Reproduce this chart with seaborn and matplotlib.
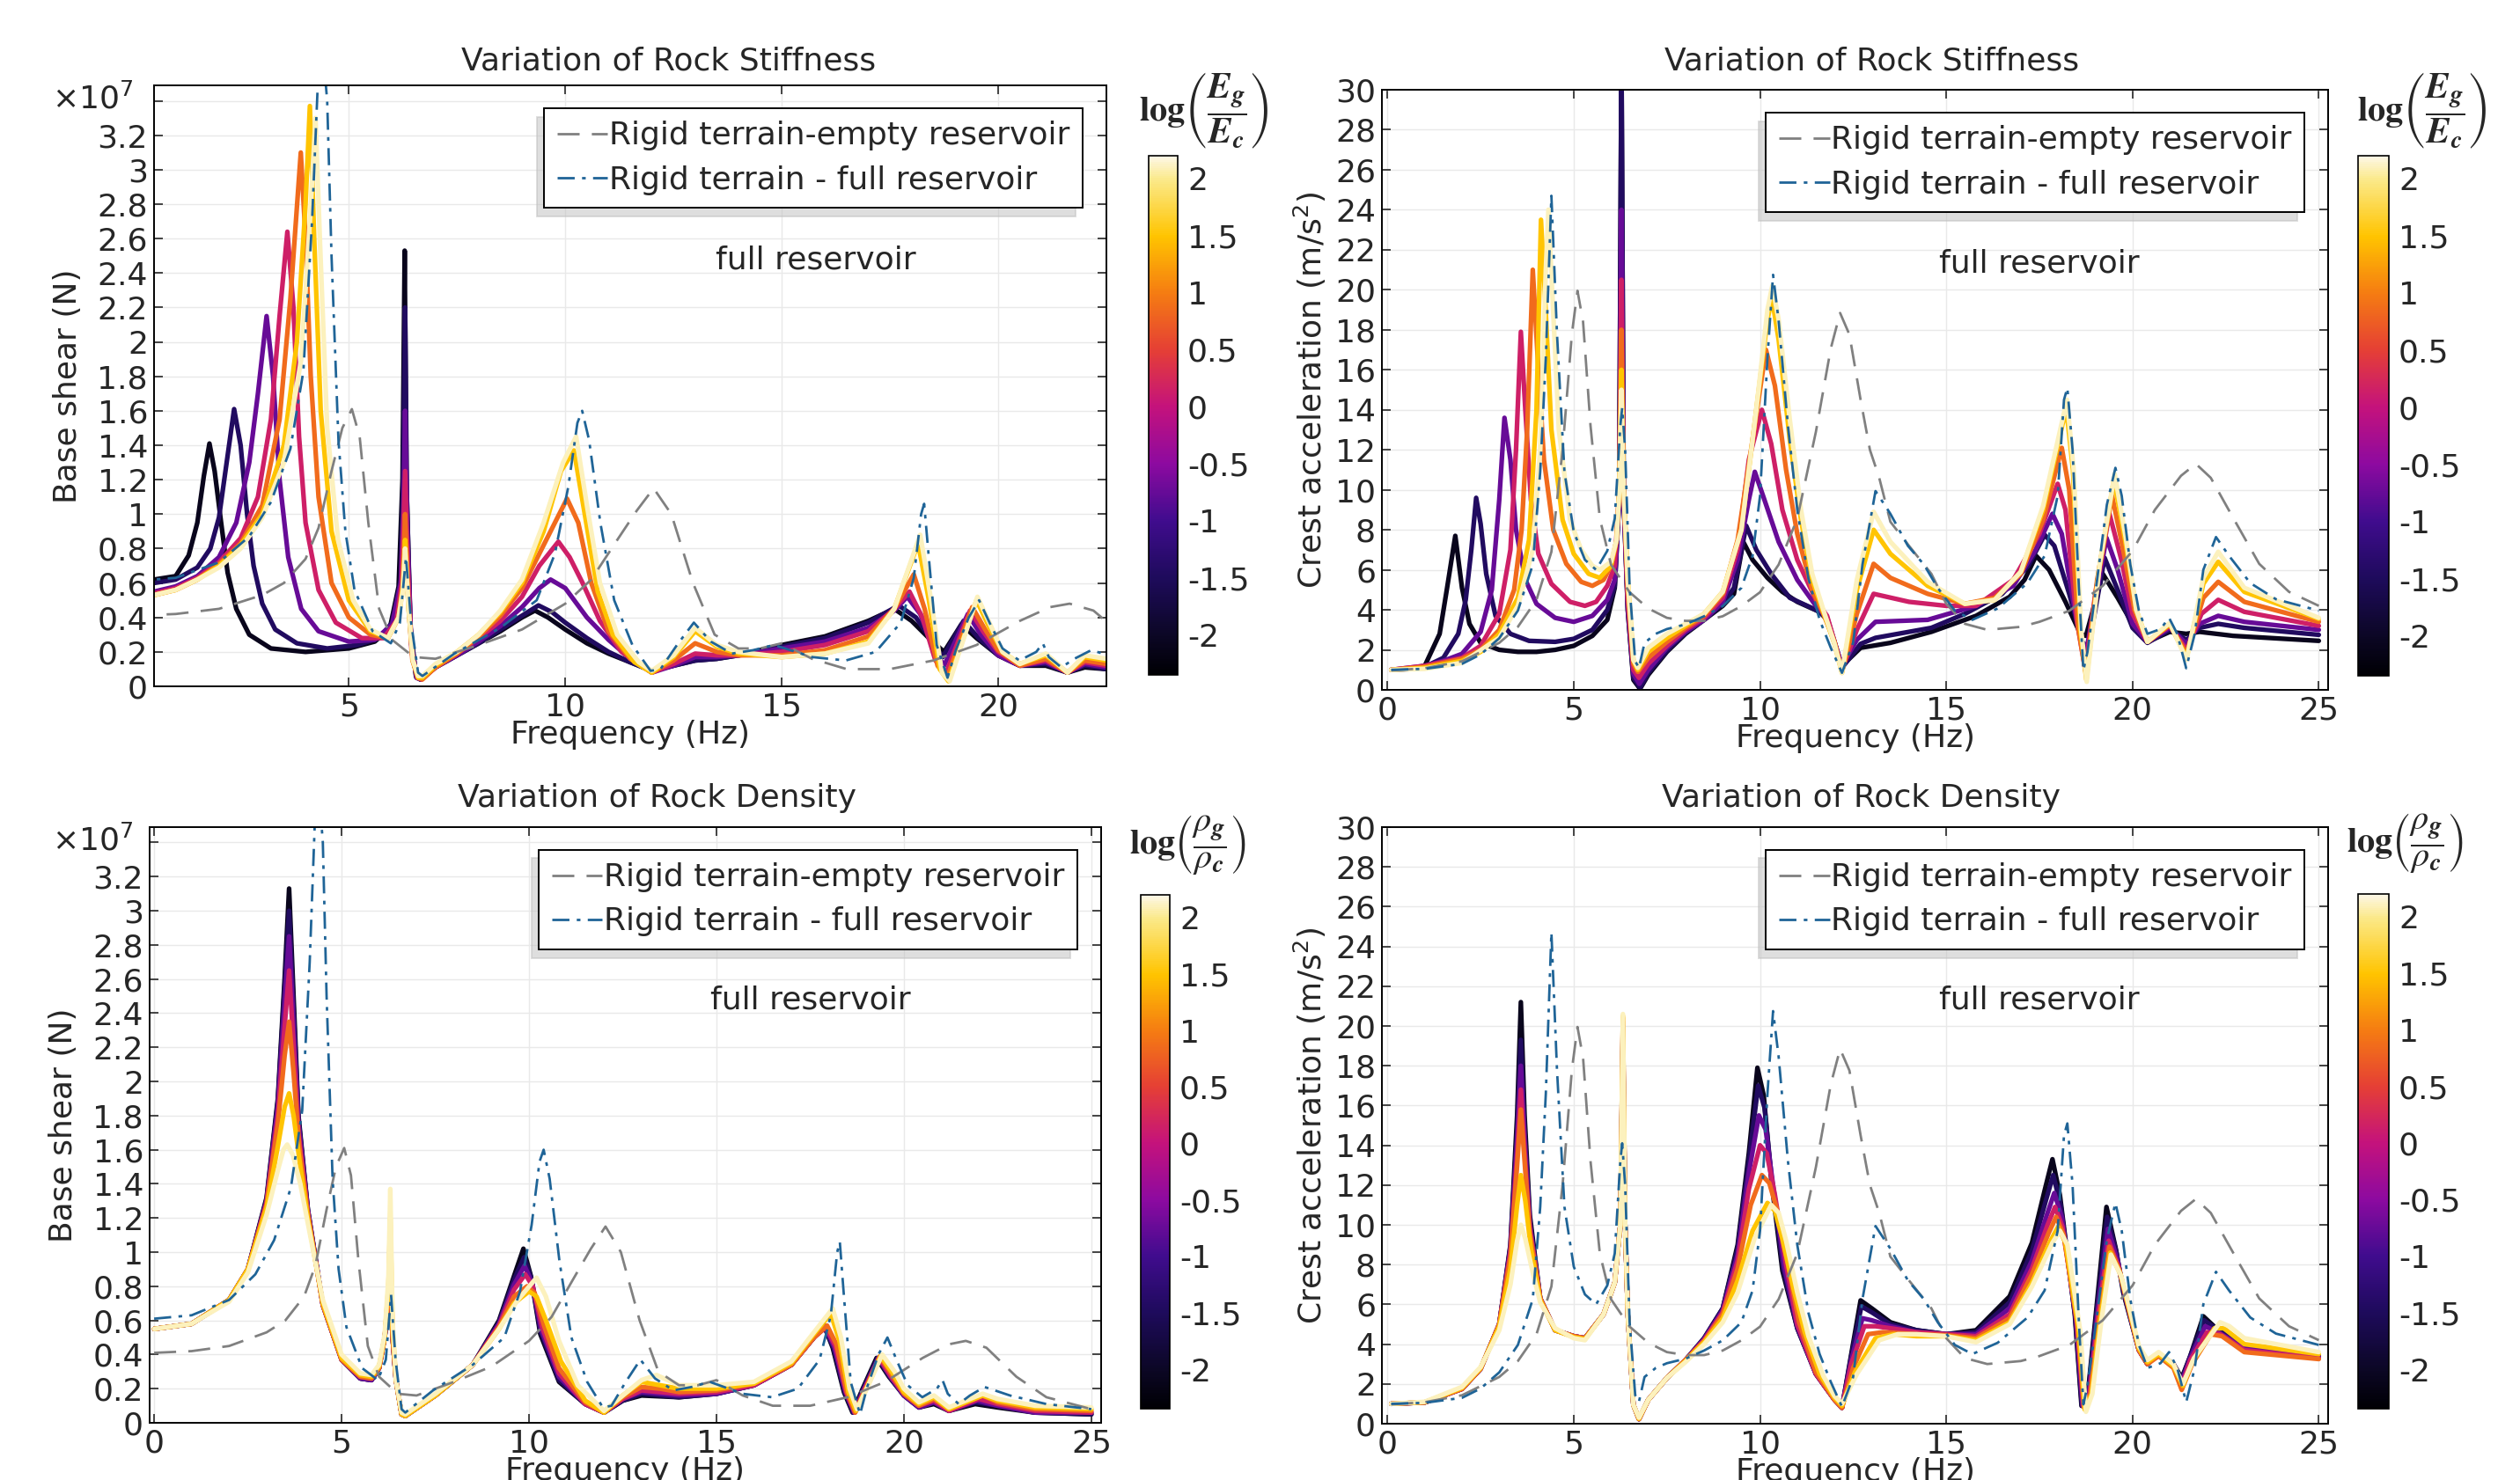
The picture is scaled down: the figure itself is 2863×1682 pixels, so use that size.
import pandas as pd
import matplotlib
matplotlib.use("Agg")
import matplotlib.pyplot as plt
import seaborn as sns
from matplotlib.colors import LinearSegmentedColormap, Normalize
from matplotlib.cm import ScalarMappable

# ── DATA ─────────────────────────────────────────────────────────────────────
# log ratio of each coloured curve (dark -> light)
log_ratio = [-2.1, -1.45, -0.75, 0.15, 0.85, 1.5, 2.1]
cbar_ticks = [-2, -1.5, -1, -0.5, 0, 0.5, 1, 1.5, 2]
cbar_range = (-2.35, 2.2)

# reference curves (frequency Hz, value); base shear in 1e7 N, acceleration in m/s2
empty_shear = [(0.0, 0.41), (1.0, 0.42), (2.0, 0.45), (3.0, 0.53), (3.5, 0.6), (4.0, 0.74), (4.3, 0.92),
               (4.6, 1.25), (4.85, 1.5), (5.07, 1.61), (5.25, 1.45), (5.45, 0.95), (5.7, 0.45), (6.0, 0.27),
               (6.5, 0.17), (7.0, 0.16), (7.5, 0.2), (8.0, 0.24), (9.0, 0.33), (10.0, 0.48), (10.6, 0.62),
               (11.2, 0.85), (11.65, 1.02), (12.04, 1.15), (12.45, 1.0), (12.95, 0.6), (13.45, 0.3),
               (14.0, 0.22), (14.5, 0.22), (15.0, 0.25), (15.7, 0.16), (16.5, 0.1), (17.5, 0.1), (18.5, 0.15),
               (19.5, 0.24), (20.5, 0.38), (21.2, 0.46), (21.65, 0.48), (22.2, 0.44), (23.0, 0.27),
               (23.8, 0.15), (25.0, 0.08)]
full_shear = [(0.0, 0.61), (1.0, 0.63), (2.0, 0.72), (2.7, 0.87), (3.2, 1.07), (3.65, 1.38), (3.95, 1.83),
              (4.15, 2.7), (4.3, 3.6), (4.38, 3.75), (4.5, 3.4), (4.6, 2.5), (4.76, 1.43), (4.92, 0.9),
              (5.13, 0.56), (5.55, 0.32), (5.97, 0.25), (6.18, 0.37), (6.32, 0.75), (6.44, 0.37), (6.6, 0.08),
              (6.7, 0.06), (7.44, 0.19), (8.5, 0.34), (9.34, 0.5), (9.76, 0.77), (10.07, 1.16), (10.28, 1.53),
              (10.39, 1.6), (10.55, 1.43), (10.81, 0.95), (11.13, 0.5), (11.55, 0.24), (11.97, 0.09),
              (12.2, 0.1), (12.58, 0.24), (12.97, 0.37), (13.36, 0.26), (13.85, 0.19), (14.34, 0.21),
              (14.82, 0.24), (15.2, 0.21), (15.7, 0.17), (16.48, 0.15), (17.17, 0.2), (17.75, 0.37),
              (18.05, 0.63), (18.22, 1.0), (18.29, 1.06), (18.39, 0.77), (18.58, 0.24), (18.83, 0.05),
              (19.02, 0.21), (19.32, 0.4), (19.56, 0.5), (19.8, 0.37), (20.1, 0.22), (20.49, 0.15),
              (20.88, 0.2), (21.03, 0.25), (21.17, 0.17), (21.46, 0.11), (21.76, 0.16), (22.15, 0.21),
              (22.83, 0.16), (23.8, 0.11), (25.0, 0.08)]
empty_acc = [(0.1, 0.97), (1.0, 1.08), (2.0, 1.43), (3.0, 2.35), (3.5, 3.15), (4.0, 4.5), (4.4, 6.9),
             (4.7, 12.0), (4.95, 17.8), (5.1, 19.95), (5.25, 18.4), (5.45, 13.2), (5.7, 8.56), (6.0, 6.26),
             (6.5, 4.88), (7.0, 4.07), (7.5, 3.6), (8.0, 3.45), (8.5, 3.45), (9.0, 3.68), (9.5, 4.19),
             (10.0, 4.88), (10.5, 6.26), (11.0, 8.56), (11.5, 12.9), (11.9, 17.07), (12.15, 18.84),
             (12.4, 17.76), (12.7, 14.5), (12.95, 12.0), (13.2, 10.6), (13.5, 8.4), (14.0, 7.2), (14.6, 5.8),
             (15.0, 4.3), (15.5, 3.3), (16.1, 3.0), (17.0, 3.15), (17.5, 3.4), (18.3, 3.95), (19.2, 5.2),
             (20.0, 6.95), (20.6, 9.0), (21.3, 10.7), (21.7, 11.3), (22.1, 10.6), (22.7, 8.6), (23.4, 6.3),
             (24.2, 4.9), (25.0, 4.2)]
full_acc = [(0.1, 1.0), (1.0, 1.05), (2.0, 1.3), (2.5, 1.77), (3.0, 2.58), (3.5, 3.96), (3.9, 6.26),
            (4.1, 10.9), (4.25, 16.6), (4.4, 24.7), (4.55, 17.8), (4.75, 10.9), (5.0, 7.9), (5.3, 6.5),
            (5.6, 6.0), (5.9, 6.95), (6.1, 8.56), (6.25, 13.2), (6.3, 14.1), (6.38, 12.0), (6.5, 5.1),
            (6.65, 1.43), (6.75, 1.1), (6.9, 2.35), (7.2, 2.8), (7.5, 3.04), (8.0, 3.27), (8.5, 3.68),
            (9.0, 4.19), (9.5, 5.1), (9.8, 6.7), (10.0, 9.7), (10.2, 16.6), (10.35, 20.75), (10.5, 18.45),
            (10.75, 13.2), (11.0, 9.0), (11.3, 5.57), (11.6, 3.5), (11.9, 2.1), (12.2, 0.85), (12.5, 2.35),
            (12.75, 6.26), (13.1, 9.94), (13.5, 8.8), (13.97, 7.2), (14.4, 6.26), (14.77, 5.1),
            (15.23, 3.96), (15.7, 3.5), (16.38, 4.07), (17.18, 5.34), (17.64, 6.7), (17.99, 9.7),
            (18.16, 14.5), (18.25, 15.1), (18.39, 12.0), (18.56, 5.1), (18.68, 0.97), (18.79, 1.9),
            (19.02, 5.1), (19.31, 9.25), (19.54, 11.1), (19.71, 9.7), (19.94, 6.26), (20.17, 3.96),
            (20.4, 2.8), (20.75, 3.04), (20.98, 3.6), (21.2, 2.8), (21.44, 1.08), (21.67, 2.8), (21.9, 6.0),
            (22.24, 7.64), (22.59, 6.7), (23.16, 5.34), (23.85, 4.53), (25.0, 3.96)]

# rock stiffness variation, base shear (1e7 N), one curve per log ratio
stiff_shear = [
    [(0.5, 0.62), (1.0, 0.64), (1.3, 0.76), (1.5, 0.95), (1.65, 1.22), (1.78, 1.41), (1.9, 1.25), (2.05, 0.95),
     (2.2, 0.66), (2.4, 0.45), (2.7, 0.3), (3.2, 0.22), (4.0, 0.2), (5.0, 0.22), (5.6, 0.26), (5.95, 0.34),
     (6.15, 0.58), (6.24, 1.2), (6.29, 2.53), (6.33, 1.2), (6.42, 0.35), (6.55, 0.06), (6.65, 0.04),
     (7.0, 0.11), (7.5, 0.18), (8.0, 0.25), (8.5, 0.32), (9.0, 0.4), (9.3, 0.44), (9.6, 0.4), (10.0, 0.33),
     (10.5, 0.25), (11.0, 0.19), (11.5, 0.14), (12.0, 0.09), (12.5, 0.12), (13.0, 0.15), (13.5, 0.16),
     (14.0, 0.18), (15.0, 0.24), (16.0, 0.29), (17.0, 0.38), (17.6, 0.45), (18.0, 0.38), (18.4, 0.28),
     (18.75, 0.2), (19.15, 0.36), (19.5, 0.28), (20.0, 0.18), (20.5, 0.12), (21.1, 0.12), (21.6, 0.08),
     (22.0, 0.11), (22.5, 0.1)],
    [(0.5, 0.6), (1.0, 0.62), (1.5, 0.69), (1.8, 0.8), (2.0, 0.98), (2.15, 1.25), (2.35, 1.61), (2.5, 1.4),
     (2.65, 1.0), (2.8, 0.7), (3.0, 0.48), (3.3, 0.33), (3.8, 0.25), (4.5, 0.22), (5.2, 0.24), (5.7, 0.28),
     (6.0, 0.37), (6.2, 0.62), (6.26, 1.3), (6.3, 2.2), (6.34, 1.1), (6.43, 0.3), (6.56, 0.05), (6.66, 0.04),
     (7.0, 0.11), (7.5, 0.18), (8.0, 0.25), (8.5, 0.33), (9.0, 0.41), (9.38, 0.47), (9.7, 0.43), (10.0, 0.37),
     (10.5, 0.28), (11.0, 0.2), (11.5, 0.14), (12.0, 0.09), (12.5, 0.12), (13.0, 0.15), (13.5, 0.16),
     (14.0, 0.18), (15.0, 0.23), (16.0, 0.28), (17.0, 0.37), (17.7, 0.47), (18.1, 0.4), (18.45, 0.27),
     (18.72, 0.17), (19.2, 0.38), (19.55, 0.28), (20.0, 0.18), (20.5, 0.12), (21.1, 0.13), (21.6, 0.08),
     (22.0, 0.12), (22.5, 0.1)],
    [(0.5, 0.55), (1.0, 0.58), (1.5, 0.64), (2.0, 0.75), (2.4, 0.95), (2.7, 1.3), (2.9, 1.7), (3.1, 2.15),
     (3.25, 1.8), (3.4, 1.2), (3.6, 0.75), (3.9, 0.45), (4.3, 0.32), (5.0, 0.26), (5.6, 0.27), (6.0, 0.36),
     (6.2, 0.6), (6.26, 1.0), (6.3, 1.6), (6.35, 0.9), (6.44, 0.25), (6.57, 0.05), (6.67, 0.04), (7.0, 0.11),
     (7.5, 0.18), (8.0, 0.26), (8.5, 0.35), (9.0, 0.46), (9.4, 0.57), (9.66, 0.62), (10.0, 0.57),
     (10.5, 0.4), (11.0, 0.27), (11.5, 0.16), (12.0, 0.08), (12.5, 0.12), (13.0, 0.17), (13.5, 0.17),
     (14.0, 0.18), (15.0, 0.22), (16.0, 0.26), (17.0, 0.34), (17.6, 0.44), (17.9, 0.52), (18.2, 0.42),
     (18.5, 0.22), (18.75, 0.12), (19.3, 0.42), (19.6, 0.3), (20.0, 0.18), (20.5, 0.12), (21.1, 0.14),
     (21.6, 0.08), (22.0, 0.13), (22.5, 0.11)],
    [(0.5, 0.54), (1.0, 0.57), (1.5, 0.63), (2.0, 0.72), (2.5, 0.86), (2.9, 1.1), (3.2, 1.55), (3.4, 2.15),
     (3.58, 2.64), (3.72, 2.2), (3.85, 1.45), (4.0, 0.95), (4.3, 0.56), (4.7, 0.37), (5.3, 0.28), (5.8, 0.28),
     (6.1, 0.38), (6.22, 0.6), (6.3, 1.25), (6.36, 0.7), (6.45, 0.2), (6.58, 0.05), (6.68, 0.04), (7.0, 0.11),
     (7.5, 0.19), (8.0, 0.28), (8.5, 0.38), (9.0, 0.52), (9.4, 0.7), (9.84, 0.84), (10.1, 0.75), (10.4, 0.6),
     (10.8, 0.38), (11.3, 0.2), (12.0, 0.08), (12.5, 0.13), (13.0, 0.19), (13.5, 0.18), (14.0, 0.18),
     (15.0, 0.2), (16.0, 0.24), (17.0, 0.32), (17.6, 0.45), (17.95, 0.55), (18.25, 0.4), (18.55, 0.15),
     (18.8, 0.08), (19.35, 0.44), (19.65, 0.32), (20.0, 0.2), (20.5, 0.12), (21.1, 0.15), (21.6, 0.08),
     (22.0, 0.14), (22.5, 0.12)],
    [(0.5, 0.53), (1.0, 0.56), (1.5, 0.62), (2.0, 0.71), (2.5, 0.83), (3.0, 1.05), (3.4, 1.55), (3.65, 2.25),
     (3.89, 3.1), (4.0, 2.6), (4.12, 1.8), (4.3, 1.1), (4.6, 0.6), (5.0, 0.4), (5.5, 0.3), (5.9, 0.28),
     (6.15, 0.4), (6.25, 0.6), (6.3, 1.0), (6.37, 0.5), (6.47, 0.15), (6.6, 0.05), (6.7, 0.04), (7.0, 0.11),
     (7.5, 0.19), (8.0, 0.29), (8.5, 0.41), (9.0, 0.57), (9.5, 0.82), (10.04, 1.09), (10.3, 0.95),
     (10.6, 0.6), (11.0, 0.32), (11.5, 0.16), (12.0, 0.08), (12.5, 0.15), (13.0, 0.25), (13.5, 0.2),
     (14.0, 0.18), (15.0, 0.18), (16.0, 0.21), (17.0, 0.29), (17.6, 0.45), (18.05, 0.65), (18.3, 0.45),
     (18.6, 0.12), (18.82, 0.05), (19.4, 0.46), (19.7, 0.33), (20.0, 0.21), (20.5, 0.12), (21.1, 0.16),
     (21.6, 0.08), (22.0, 0.15), (22.5, 0.13)],
    [(0.5, 0.53), (1.0, 0.56), (1.5, 0.62), (2.0, 0.7), (2.5, 0.82), (3.0, 1.0), (3.5, 1.4), (3.8, 2.0),
     (4.0, 2.8), (4.1, 3.37), (4.2, 2.6), (4.35, 1.6), (4.6, 0.9), (5.0, 0.5), (5.5, 0.32), (5.9, 0.28),
     (6.15, 0.4), (6.25, 0.58), (6.3, 0.85), (6.38, 0.45), (6.48, 0.15), (6.6, 0.05), (6.7, 0.05),
     (7.0, 0.12), (7.5, 0.2), (8.0, 0.3), (8.5, 0.43), (9.0, 0.6), (9.5, 0.9), (9.9, 1.25), (10.2, 1.37),
     (10.45, 1.0), (10.75, 0.55), (11.1, 0.3), (11.6, 0.14), (12.0, 0.08), (12.5, 0.17), (13.0, 0.32),
     (13.5, 0.23), (14.0, 0.19), (15.0, 0.17), (16.0, 0.19), (17.0, 0.26), (17.6, 0.45), (18.15, 0.83),
     (18.4, 0.5), (18.65, 0.1), (18.85, 0.03), (19.5, 0.5), (19.8, 0.34), (20.1, 0.2), (20.5, 0.13),
     (21.1, 0.18), (21.6, 0.08), (22.0, 0.17), (22.5, 0.15)],
    [(0.5, 0.53), (1.0, 0.56), (1.5, 0.62), (2.0, 0.69), (2.5, 0.8), (3.0, 0.98), (3.5, 1.3), (3.9, 1.9),
     (4.1, 2.7), (4.23, 3.3), (4.33, 2.6), (4.5, 1.5), (4.75, 0.85), (5.1, 0.5), (5.5, 0.33), (5.9, 0.28),
     (6.15, 0.4), (6.25, 0.56), (6.3, 0.8), (6.38, 0.45), (6.48, 0.15), (6.6, 0.06), (6.7, 0.06),
     (7.0, 0.13), (7.5, 0.2), (8.0, 0.3), (8.5, 0.44), (9.0, 0.62), (9.5, 0.95), (9.95, 1.3), (10.25, 1.45),
     (10.5, 1.05), (10.8, 0.6), (11.2, 0.3), (11.7, 0.14), (12.0, 0.09), (12.5, 0.18), (13.0, 0.34),
     (13.5, 0.24), (14.0, 0.2), (15.0, 0.17), (16.0, 0.19), (17.0, 0.25), (17.6, 0.45), (18.2, 0.88),
     (18.45, 0.5), (18.7, 0.08), (18.88, 0.03), (19.52, 0.52), (19.85, 0.34), (20.1, 0.2), (20.5, 0.13),
     (21.1, 0.19), (21.6, 0.08), (22.0, 0.18), (22.5, 0.16)],
]

# rock stiffness variation, crest acceleration (m/s2)
stiff_acc = [
    [(0.1, 1.0), (0.6, 1.05), (1.0, 1.2), (1.4, 2.8), (1.6, 5.1), (1.82, 7.7), (2.0, 5.1), (2.2, 3.3),
     (2.5, 2.35), (3.0, 2.0), (3.5, 1.9), (4.0, 1.9), (4.5, 2.0), (5.0, 2.2), (5.5, 2.7), (5.9, 3.5),
     (6.1, 5.1), (6.22, 9.7), (6.28, 32.0), (6.34, 9.7), (6.45, 4.0), (6.6, 0.5), (6.78, 0.05), (7.0, 0.75),
     (7.5, 1.9), (8.0, 2.8), (8.5, 3.5), (9.0, 4.2), (9.3, 4.8), (9.55, 7.4), (9.8, 6.5), (10.2, 5.6),
     (10.6, 4.9), (11.0, 4.4), (11.6, 3.9), (11.8, 3.5), (12.0, 2.35), (12.2, 1.2), (12.7, 2.1), (13.5, 2.35),
     (14.6, 2.9), (15.8, 3.7), (16.7, 4.65), (17.1, 5.5), (17.41, 6.7), (17.76, 6.0), (18.2, 4.4),
     (18.6, 2.8), (18.75, 2.7), (19.2, 5.8), (19.6, 4.6), (20.0, 3.3), (20.4, 2.4), (21.0, 2.9),
     (21.44, 2.8), (21.8, 2.9), (22.7, 2.7), (25.0, 2.45)],
    [(0.1, 1.0), (0.6, 1.04), (1.0, 1.15), (1.5, 1.6), (1.9, 2.8), (2.1, 4.5), (2.25, 7.0), (2.38, 9.6),
     (2.5, 8.3), (2.65, 5.8), (2.9, 3.7), (3.3, 2.8), (3.8, 2.45), (4.5, 2.4), (5.0, 2.55), (5.5, 3.0),
     (5.9, 4.0), (6.1, 5.2), (6.22, 9.5), (6.28, 32.0), (6.34, 9.5), (6.45, 4.0), (6.6, 0.6), (6.78, 0.1),
     (7.0, 0.85), (7.5, 1.95), (8.0, 2.85), (8.5, 3.5), (9.0, 4.3), (9.3, 5.1), (9.63, 8.2), (9.9, 7.0),
     (10.3, 5.8), (10.8, 4.6), (11.5, 4.0), (11.8, 3.6), (12.0, 2.4), (12.2, 1.1), (12.7, 2.3), (13.1, 2.6),
     (14.6, 3.1), (15.5, 3.8), (16.5, 4.8), (17.2, 6.2), (17.64, 7.75), (17.9, 7.2), (18.3, 4.8),
     (18.65, 2.4), (18.8, 2.1), (19.0, 4.0), (19.25, 6.6), (19.6, 5.0), (20.0, 3.1), (20.4, 2.35),
     (21.0, 3.0), (21.45, 2.5), (21.8, 3.1), (22.3, 3.3), (23.0, 3.1), (25.0, 2.75)],
    [(0.1, 1.0), (1.0, 1.2), (1.5, 1.45), (2.0, 1.8), (2.5, 2.9), (2.8, 5.0), (3.0, 9.5), (3.14, 13.6),
     (3.3, 11.5), (3.45, 8.0), (3.7, 5.5), (4.0, 4.3), (4.5, 3.6), (5.0, 3.4), (5.5, 3.7), (5.9, 4.5),
     (6.1, 5.5), (6.22, 9.5), (6.28, 24.0), (6.34, 9.5), (6.45, 4.2), (6.6, 0.8), (6.76, 0.3), (7.0, 1.0),
     (7.5, 2.1), (8.0, 2.9), (8.5, 3.5), (9.0, 4.4), (9.4, 6.5), (9.7, 9.5), (9.86, 10.9), (10.1, 9.6),
     (10.5, 7.4), (11.0, 5.5), (11.5, 4.2), (11.8, 3.6), (12.0, 2.4), (12.2, 1.2), (12.6, 2.5), (13.1, 3.4),
     (14.5, 3.5), (15.8, 4.2), (16.8, 5.2), (17.4, 7.0), (17.85, 8.8), (18.1, 7.8), (18.45, 4.0),
     (18.72, 1.5), (19.0, 4.5), (19.3, 7.6), (19.6, 6.0), (20.0, 3.3), (20.4, 2.4), (21.0, 3.1),
     (21.45, 2.3), (21.8, 3.3), (22.3, 3.7), (23.0, 3.4), (25.0, 3.0)],
    [(0.1, 1.0), (1.0, 1.2), (2.0, 1.6), (2.5, 2.2), (3.0, 3.8), (3.3, 7.0), (3.45, 12.0), (3.58, 17.9),
     (3.7, 14.0), (3.85, 9.5), (4.05, 6.8), (4.4, 5.3), (4.9, 4.4), (5.3, 4.2), (5.6, 4.4), (5.9, 5.2),
     (6.1, 6.2), (6.22, 10.0), (6.28, 20.5), (6.34, 10.0), (6.45, 4.5), (6.6, 1.0), (6.75, 0.6), (7.0, 1.3),
     (7.5, 2.2), (8.0, 3.0), (8.5, 3.6), (9.0, 4.6), (9.4, 7.0), (9.7, 11.5), (10.05, 14.0), (10.3, 12.3),
     (10.6, 9.0), (11.0, 6.5), (11.5, 4.5), (11.8, 3.7), (12.0, 2.4), (12.2, 1.0), (12.6, 3.0),
     (13.05, 4.8), (14.0, 4.4), (15.0, 4.2), (15.8, 4.2), (16.8, 5.5), (17.5, 7.8), (17.99, 10.3),
     (18.2, 9.0), (18.5, 3.5), (18.73, 1.0), (19.0, 4.8), (19.38, 8.8), (19.7, 6.5), (20.0, 3.8),
     (20.4, 2.4), (21.0, 3.2), (21.45, 2.0), (21.85, 3.8), (22.3, 4.5), (23.0, 3.9), (25.0, 3.2)],
    [(0.1, 1.0), (1.0, 1.15), (2.0, 1.55), (2.5, 2.0), (3.0, 3.0), (3.4, 5.0), (3.6, 8.0), (3.75, 13.0),
     (3.9, 21.0), (4.02, 17.0), (4.2, 11.5), (4.45, 8.0), (4.8, 6.3), (5.2, 5.4), (5.5, 5.2), (5.8, 5.5),
     (6.0, 6.2), (6.15, 7.5), (6.22, 10.0), (6.28, 18.0), (6.34, 10.0), (6.45, 5.0), (6.6, 1.3),
     (6.72, 0.9), (7.0, 1.6), (7.5, 2.4), (8.0, 3.1), (8.5, 3.7), (9.0, 4.8), (9.4, 7.5), (9.8, 12.5),
     (10.16, 17.0), (10.4, 15.2), (10.7, 11.0), (11.0, 7.8), (11.4, 5.0), (11.7, 3.8), (12.0, 2.4),
     (12.2, 0.9), (12.6, 3.8), (13.05, 6.3), (13.5, 5.6), (14.5, 4.8), (15.5, 4.3), (16.3, 4.6),
     (17.0, 5.8), (17.6, 8.5), (18.1, 12.1), (18.3, 10.0), (18.55, 3.0), (18.75, 0.8), (19.05, 5.5),
     (19.45, 9.7), (19.75, 7.0), (20.05, 4.0), (20.4, 2.4), (21.0, 3.25), (21.45, 1.8), (21.9, 4.6),
     (22.3, 5.4), (23.0, 4.4), (25.0, 3.4)],
    [(0.1, 1.0), (1.0, 1.1), (2.0, 1.45), (2.5, 1.9), (3.0, 2.8), (3.5, 4.6), (3.8, 7.5), (4.0, 14.0),
     (4.12, 23.5), (4.22, 20.0), (4.4, 13.0), (4.7, 8.5), (5.0, 6.8), (5.4, 5.8), (5.7, 5.6), (6.0, 6.2),
     (6.15, 7.5), (6.22, 10.0), (6.28, 16.0), (6.34, 10.0), (6.45, 5.5), (6.6, 1.5), (6.72, 1.0),
     (7.0, 1.9), (7.5, 2.6), (8.0, 3.2), (8.5, 3.8), (9.0, 4.9), (9.5, 8.0), (9.9, 14.0), (10.2, 18.5),
     (10.32, 19.6), (10.5, 17.5), (10.8, 12.5), (11.1, 8.5), (11.4, 5.5), (11.7, 3.9), (12.0, 2.3),
     (12.2, 0.85), (12.6, 5.0), (13.05, 8.0), (13.5, 6.8), (14.5, 5.2), (15.5, 4.3), (16.3, 4.5),
     (17.0, 5.9), (17.6, 9.0), (18.22, 14.1), (18.4, 11.0), (18.6, 3.0), (18.76, 0.5), (19.1, 6.0),
     (19.5, 10.5), (19.8, 7.5), (20.1, 4.0), (20.4, 2.4), (21.0, 3.3), (21.45, 1.6), (21.9, 5.3),
     (22.3, 6.4), (23.0, 4.9), (25.0, 3.55)],
    [(0.1, 1.0), (1.0, 1.05), (2.0, 1.35), (3.0, 2.6), (3.5, 4.2), (3.9, 7.0), (4.1, 12.0), (4.25, 21.0),
     (4.32, 24.0), (4.42, 20.0), (4.6, 13.0), (4.9, 8.5), (5.2, 7.0), (5.5, 6.2), (5.7, 6.0), (6.0, 6.4),
     (6.15, 7.5), (6.22, 10.0), (6.28, 15.0), (6.34, 10.0), (6.45, 5.5), (6.6, 1.5), (6.72, 1.1),
     (7.0, 2.1), (7.5, 2.8), (8.0, 3.3), (8.5, 3.8), (9.0, 4.9), (9.5, 8.0), (9.9, 14.0), (10.2, 19.0),
     (10.33, 20.2), (10.5, 18.5), (10.8, 13.5), (11.1, 9.0), (11.4, 5.8), (11.7, 4.0), (12.0, 2.3),
     (12.2, 0.85), (12.6, 5.5), (13.05, 8.9), (13.5, 7.4), (14.5, 5.4), (15.5, 4.3), (16.3, 4.5),
     (17.0, 5.9), (17.6, 9.2), (18.24, 14.5), (18.42, 11.0), (18.62, 3.0), (18.77, 0.4), (19.12, 6.3),
     (19.52, 10.8), (19.82, 7.6), (20.1, 4.0), (20.4, 2.4), (21.0, 3.35), (21.45, 1.5), (21.9, 5.6),
     (22.3, 6.9), (23.0, 5.1), (25.0, 3.6)],
]

# rock density variation, base shear (1e7 N)
dens_shear = [
    [(0.0, 0.55), (1.0, 0.58), (2.0, 0.72), (2.5, 0.9), (3.0, 1.32), (3.3, 1.9), (3.48, 2.6), (3.6, 3.13),
     (3.7, 2.6), (3.85, 1.8), (4.1, 1.25), (4.5, 0.69), (5.0, 0.37), (5.5, 0.26), (5.8, 0.25), (6.0, 0.32),
     (6.15, 0.5), (6.25, 0.68), (6.3, 0.75), (6.36, 0.5), (6.45, 0.25), (6.6, 0.05), (6.7, 0.04),
     (7.5, 0.16), (8.5, 0.34), (9.2, 0.6), (9.6, 0.86), (9.85, 1.02), (10.05, 0.86), (10.3, 0.52),
     (10.8, 0.24), (11.5, 0.11), (12.0, 0.06), (12.5, 0.13), (13.0, 0.16), (14.0, 0.15), (15.0, 0.17),
     (16.0, 0.22), (17.0, 0.34), (17.6, 0.5), (17.85, 0.58), (18.1, 0.44), (18.4, 0.18), (18.63, 0.06),
     (18.9, 0.2), (19.27, 0.38), (19.6, 0.27), (20.0, 0.16), (20.4, 0.09), (20.8, 0.11), (21.2, 0.07),
     (21.9, 0.11), (22.5, 0.09), (23.5, 0.06), (25.0, 0.05)],
    [(0.0, 0.55), (1.0, 0.58), (2.0, 0.72), (2.5, 0.9), (3.0, 1.31), (3.3, 1.88), (3.48, 2.55), (3.6, 3.0),
     (3.7, 2.52), (3.85, 1.78), (4.1, 1.25), (4.5, 0.69), (5.0, 0.37), (5.5, 0.26), (5.8, 0.25), (6.0, 0.32),
     (6.15, 0.5), (6.25, 0.7), (6.3, 0.8), (6.36, 0.5), (6.45, 0.25), (6.6, 0.05), (6.7, 0.04), (7.5, 0.16),
     (8.5, 0.34), (9.2, 0.59), (9.6, 0.84), (9.87, 0.97), (10.07, 0.84), (10.3, 0.54), (10.8, 0.25),
     (11.5, 0.11), (12.0, 0.06), (12.5, 0.13), (13.0, 0.17), (14.0, 0.15), (15.0, 0.17), (16.0, 0.22),
     (17.0, 0.34), (17.6, 0.5), (17.87, 0.57), (18.12, 0.44), (18.42, 0.18), (18.65, 0.06), (18.92, 0.2),
     (19.3, 0.38), (19.62, 0.27), (20.0, 0.16), (20.4, 0.09), (20.8, 0.12), (21.2, 0.07), (21.9, 0.12),
     (22.5, 0.1), (23.5, 0.06), (25.0, 0.05)],
    [(0.0, 0.55), (1.0, 0.58), (2.0, 0.72), (2.5, 0.9), (3.0, 1.3), (3.3, 1.85), (3.48, 2.45), (3.6, 2.85),
     (3.7, 2.42), (3.85, 1.75), (4.1, 1.24), (4.5, 0.69), (5.0, 0.37), (5.5, 0.26), (5.8, 0.25), (6.0, 0.32),
     (6.15, 0.5), (6.25, 0.72), (6.3, 0.85), (6.36, 0.5), (6.45, 0.25), (6.6, 0.05), (6.7, 0.04),
     (7.5, 0.16), (8.5, 0.34), (9.2, 0.58), (9.6, 0.81), (9.88, 0.92), (10.08, 0.82), (10.32, 0.55),
     (10.8, 0.27), (11.5, 0.11), (12.0, 0.06), (12.5, 0.14), (13.0, 0.18), (14.0, 0.16), (15.0, 0.17),
     (16.0, 0.22), (17.0, 0.34), (17.6, 0.5), (17.9, 0.56), (18.15, 0.44), (18.44, 0.18), (18.67, 0.06),
     (18.94, 0.2), (19.32, 0.38), (19.64, 0.27), (20.0, 0.16), (20.4, 0.09), (20.8, 0.12), (21.2, 0.07),
     (21.95, 0.13), (22.5, 0.1), (23.5, 0.06), (25.0, 0.06)],
    [(0.0, 0.55), (1.0, 0.58), (2.0, 0.72), (2.5, 0.9), (3.0, 1.29), (3.3, 1.8), (3.48, 2.32), (3.6, 2.65),
     (3.7, 2.28), (3.85, 1.7), (4.1, 1.23), (4.5, 0.69), (5.0, 0.37), (5.5, 0.27), (5.8, 0.26), (6.0, 0.32),
     (6.15, 0.5), (6.25, 0.75), (6.3, 0.95), (6.36, 0.5), (6.45, 0.25), (6.6, 0.05), (6.7, 0.04),
     (7.5, 0.16), (8.5, 0.34), (9.2, 0.57), (9.6, 0.78), (9.9, 0.87), (10.1, 0.8), (10.35, 0.56),
     (10.8, 0.29), (11.5, 0.11), (12.0, 0.06), (12.5, 0.14), (13.0, 0.19), (14.0, 0.17), (15.0, 0.18),
     (16.0, 0.22), (17.0, 0.34), (17.6, 0.5), (17.92, 0.56), (18.17, 0.45), (18.46, 0.18), (18.69, 0.06),
     (18.96, 0.2), (19.34, 0.38), (19.66, 0.27), (20.0, 0.17), (20.4, 0.1), (20.8, 0.13), (21.2, 0.07),
     (22.0, 0.14), (22.5, 0.11), (23.5, 0.07), (25.0, 0.06)],
    [(0.0, 0.55), (1.0, 0.58), (2.0, 0.72), (2.5, 0.9), (3.0, 1.28), (3.3, 1.75), (3.48, 2.15), (3.6, 2.35),
     (3.72, 2.05), (3.87, 1.62), (4.1, 1.22), (4.5, 0.69), (5.0, 0.37), (5.5, 0.27), (5.8, 0.26),
     (6.0, 0.32), (6.15, 0.5), (6.25, 0.78), (6.3, 1.05), (6.36, 0.5), (6.45, 0.25), (6.6, 0.05),
     (6.7, 0.04), (7.5, 0.16), (8.5, 0.34), (9.2, 0.56), (9.6, 0.74), (9.95, 0.8), (10.15, 0.76),
     (10.4, 0.57), (10.8, 0.32), (11.5, 0.12), (12.0, 0.06), (12.5, 0.15), (13.0, 0.21), (13.5, 0.2),
     (14.0, 0.18), (15.0, 0.19), (16.0, 0.23), (17.0, 0.34), (17.6, 0.5), (17.95, 0.57), (18.2, 0.46),
     (18.48, 0.18), (18.7, 0.06), (18.98, 0.2), (19.36, 0.39), (19.68, 0.28), (20.0, 0.17), (20.4, 0.1),
     (20.8, 0.14), (21.2, 0.08), (22.1, 0.16), (22.5, 0.12), (23.5, 0.08), (25.0, 0.07)],
    [(0.0, 0.55), (1.0, 0.58), (2.0, 0.72), (2.5, 0.9), (3.0, 1.26), (3.3, 1.62), (3.48, 1.85), (3.6, 1.93),
     (3.72, 1.8), (3.9, 1.5), (4.1, 1.2), (4.5, 0.7), (5.0, 0.38), (5.5, 0.28), (5.8, 0.27), (6.0, 0.33),
     (6.15, 0.5), (6.25, 0.8), (6.3, 1.2), (6.36, 0.55), (6.45, 0.25), (6.6, 0.05), (6.7, 0.04),
     (7.5, 0.16), (8.5, 0.34), (9.2, 0.55), (9.6, 0.7), (10.0, 0.77), (10.2, 0.74), (10.45, 0.6),
     (10.85, 0.36), (11.5, 0.13), (12.0, 0.06), (12.5, 0.16), (13.0, 0.24), (13.5, 0.22), (14.0, 0.2),
     (15.0, 0.2), (16.0, 0.23), (17.0, 0.35), (17.6, 0.52), (18.05, 0.64), (18.28, 0.48), (18.52, 0.18),
     (18.72, 0.07), (19.0, 0.2), (19.38, 0.39), (19.7, 0.29), (20.0, 0.18), (20.4, 0.11), (20.8, 0.15),
     (21.2, 0.08), (22.1, 0.16), (22.5, 0.13), (23.5, 0.09), (25.0, 0.08)],
    [(0.0, 0.55), (1.0, 0.58), (2.0, 0.71), (2.5, 0.88), (3.0, 1.22), (3.3, 1.48), (3.45, 1.6), (3.55, 1.63),
     (3.7, 1.57), (3.9, 1.4), (4.1, 1.17), (4.5, 0.72), (5.0, 0.4), (5.5, 0.29), (5.8, 0.28), (6.0, 0.34),
     (6.15, 0.52), (6.25, 0.85), (6.3, 1.37), (6.36, 0.6), (6.45, 0.25), (6.6, 0.06), (6.7, 0.05),
     (7.5, 0.17), (8.5, 0.34), (9.2, 0.55), (9.7, 0.72), (10.2, 0.85), (10.45, 0.74), (10.8, 0.48),
     (11.3, 0.22), (12.0, 0.07), (12.5, 0.16), (13.0, 0.25), (13.4, 0.28), (14.0, 0.22), (15.0, 0.22),
     (16.0, 0.24), (17.0, 0.36), (17.6, 0.53), (18.1, 0.67), (18.32, 0.5), (18.55, 0.2), (18.75, 0.08),
     (19.05, 0.22), (19.42, 0.4), (19.75, 0.3), (20.0, 0.2), (20.4, 0.12), (20.8, 0.16), (21.2, 0.09),
     (22.1, 0.17), (22.5, 0.14), (23.5, 0.1), (25.0, 0.09)],
]

# rock density variation, crest acceleration (m/s2)
dens_acc = [
    [(0.1, 1.0), (1.0, 1.07), (2.0, 1.75), (2.5, 2.76), (3.0, 5.0), (3.3, 9.0), (3.48, 15.5), (3.58, 21.2),
     (3.68, 15.5), (3.82, 10.5), (4.1, 6.3), (4.5, 4.7), (5.0, 4.4), (5.3, 4.3), (5.8, 5.5), (6.1, 7.1),
     (6.25, 10.0), (6.32, 19.5), (6.38, 10.0), (6.45, 5.5), (6.6, 0.95), (6.75, 0.23), (7.0, 1.2),
     (7.5, 2.3), (8.0, 3.2), (8.5, 4.3), (9.0, 5.8), (9.4, 9.0), (9.7, 13.6), (9.93, 17.9), (10.1, 16.5),
     (10.3, 12.3), (10.6, 7.7), (11.0, 4.8), (11.5, 2.5), (12.0, 1.2), (12.2, 0.8), (12.45, 3.5),
     (12.7, 6.2), (13.0, 5.8), (13.5, 5.1), (14.2, 4.7), (15.0, 4.5), (15.8, 4.7), (16.7, 6.4), (17.3, 9.1),
     (17.65, 11.8), (17.85, 13.3), (18.05, 11.5), (18.45, 5.5), (18.63, 0.9), (18.8, 1.5), (19.02, 5.6),
     (19.3, 10.9), (19.55, 8.8), (19.75, 6.6), (20.17, 3.7), (20.4, 3.0), (20.7, 3.5), (21.1, 3.0),
     (21.32, 2.3), (21.55, 3.4), (21.9, 5.4), (22.3, 4.7), (23.0, 3.9), (25.0, 3.4)],
    [(0.1, 1.0), (1.0, 1.07), (2.0, 1.75), (2.5, 2.76), (3.0, 5.0), (3.3, 8.9), (3.48, 14.8), (3.58, 19.3),
     (3.68, 14.8), (3.82, 10.2), (4.1, 6.3), (4.5, 4.7), (5.0, 4.4), (5.3, 4.3), (5.8, 5.5), (6.1, 7.1),
     (6.25, 10.0), (6.32, 19.8), (6.38, 10.0), (6.45, 5.5), (6.6, 0.95), (6.75, 0.23), (7.0, 1.2),
     (7.5, 2.3), (8.0, 3.2), (8.5, 4.3), (9.0, 5.8), (9.4, 8.8), (9.7, 13.2), (9.95, 17.0), (10.12, 15.9),
     (10.32, 12.2), (10.62, 7.8), (11.0, 4.8), (11.5, 2.5), (12.0, 1.2), (12.2, 0.8), (12.45, 3.4),
     (12.72, 5.9), (13.0, 5.6), (13.5, 5.0), (14.2, 4.7), (15.0, 4.5), (15.8, 4.6), (16.7, 6.1),
     (17.3, 8.7), (17.67, 11.2), (17.87, 12.5), (18.07, 11.0), (18.46, 5.4), (18.64, 0.9), (18.81, 1.5),
     (19.03, 5.5), (19.32, 10.4), (19.57, 8.6), (19.76, 6.6), (20.17, 3.7), (20.4, 3.0), (20.7, 3.5),
     (21.1, 3.0), (21.32, 2.2), (21.55, 3.4), (21.92, 5.2), (22.3, 4.7), (23.0, 3.9), (25.0, 3.4)],
    [(0.1, 1.0), (1.0, 1.07), (2.0, 1.75), (2.5, 2.76), (3.0, 5.0), (3.3, 8.8), (3.48, 14.2), (3.58, 18.0),
     (3.68, 14.3), (3.82, 10.0), (4.1, 6.3), (4.5, 4.7), (5.0, 4.4), (5.3, 4.3), (5.8, 5.5), (6.1, 7.1),
     (6.25, 10.0), (6.32, 20.0), (6.38, 10.0), (6.45, 5.5), (6.6, 0.95), (6.75, 0.23), (7.0, 1.2),
     (7.5, 2.3), (8.0, 3.2), (8.5, 4.25), (9.0, 5.7), (9.4, 8.5), (9.7, 12.6), (9.97, 15.5), (10.15, 14.8),
     (10.35, 12.0), (10.65, 7.9), (11.0, 4.9), (11.5, 2.5), (12.0, 1.2), (12.2, 0.8), (12.45, 3.2),
     (12.75, 5.3), (13.0, 5.2), (13.5, 4.9), (14.2, 4.6), (15.0, 4.5), (15.8, 4.5), (16.7, 5.8),
     (17.3, 8.2), (17.7, 10.5), (17.9, 11.6), (18.1, 10.4), (18.48, 5.3), (18.66, 0.9), (18.83, 1.5),
     (19.05, 5.4), (19.34, 9.8), (19.6, 8.2), (19.78, 6.6), (20.17, 3.7), (20.4, 3.0), (20.7, 3.5),
     (21.1, 3.0), (21.32, 2.1), (21.55, 3.3), (21.95, 4.9), (22.3, 4.6), (23.0, 3.8), (25.0, 3.35)],
    [(0.1, 1.0), (1.0, 1.07), (2.0, 1.75), (2.5, 2.76), (3.0, 5.0), (3.3, 8.6), (3.48, 13.5), (3.58, 16.8),
     (3.68, 13.7), (3.82, 9.8), (4.1, 6.3), (4.5, 4.7), (5.0, 4.4), (5.3, 4.3), (5.8, 5.5), (6.1, 7.1),
     (6.25, 10.0), (6.32, 20.2), (6.38, 10.0), (6.45, 5.5), (6.6, 0.95), (6.75, 0.23), (7.0, 1.2),
     (7.5, 2.3), (8.0, 3.2), (8.5, 4.2), (9.0, 5.6), (9.4, 8.2), (9.7, 11.8), (10.0, 14.0), (10.18, 13.6),
     (10.4, 11.5), (10.7, 8.0), (11.0, 5.0), (11.5, 2.5), (12.0, 1.2), (12.2, 0.8), (12.45, 3.0),
     (12.8, 4.9), (13.1, 4.9), (13.5, 4.8), (14.2, 4.6), (15.0, 4.5), (15.8, 4.4), (16.7, 5.5), (17.3, 7.8),
     (17.72, 10.0), (17.92, 10.9), (18.12, 9.9), (18.5, 5.2), (18.68, 0.9), (18.85, 1.5), (19.07, 5.3),
     (19.36, 9.2), (19.62, 7.9), (19.8, 6.5), (20.17, 3.7), (20.4, 3.0), (20.7, 3.5), (21.1, 2.9),
     (21.32, 1.9), (21.55, 3.2), (22.0, 4.6), (22.35, 4.5), (23.0, 3.7), (25.0, 3.3)],
    [(0.1, 1.0), (1.0, 1.07), (2.0, 1.75), (2.5, 2.76), (3.0, 5.0), (3.3, 8.4), (3.48, 13.0), (3.58, 15.8),
     (3.68, 13.2), (3.82, 9.6), (4.1, 6.3), (4.5, 4.7), (5.0, 4.4), (5.3, 4.3), (5.8, 5.5), (6.1, 7.1),
     (6.25, 10.0), (6.32, 20.4), (6.38, 10.0), (6.45, 5.5), (6.6, 0.95), (6.75, 0.23), (7.0, 1.2),
     (7.5, 2.3), (8.0, 3.2), (8.5, 4.15), (9.0, 5.5), (9.4, 7.8), (9.75, 11.0), (10.05, 12.5),
     (10.25, 12.1), (10.45, 10.8), (10.75, 8.0), (11.05, 5.1), (11.5, 2.6), (12.0, 1.2), (12.2, 0.8),
     (12.5, 2.8), (12.9, 4.5), (13.3, 4.6), (14.2, 4.5), (15.0, 4.45), (15.8, 4.3), (16.7, 5.3),
     (17.3, 7.5), (17.75, 9.6), (17.95, 10.4), (18.15, 9.5), (18.52, 5.0), (18.7, 0.8), (18.87, 1.5),
     (19.1, 5.2), (19.38, 8.9), (19.65, 7.7), (19.82, 6.4), (20.17, 3.7), (20.4, 3.0), (20.7, 3.4),
     (21.1, 2.8), (21.32, 1.7), (21.6, 3.0), (22.1, 4.5), (22.4, 4.4), (23.0, 3.6), (25.0, 3.25)],
    [(0.1, 1.0), (1.0, 1.08), (2.0, 1.8), (2.5, 2.8), (3.0, 4.9), (3.3, 7.8), (3.48, 11.0), (3.58, 12.5),
     (3.7, 11.2), (3.85, 8.8), (4.1, 6.2), (4.5, 4.7), (5.0, 4.35), (5.3, 4.25), (5.8, 5.5), (6.1, 7.1),
     (6.25, 10.0), (6.32, 20.5), (6.38, 10.0), (6.45, 5.5), (6.6, 0.95), (6.75, 0.25), (7.0, 1.2),
     (7.5, 2.3), (8.0, 3.15), (8.5, 4.1), (9.0, 5.3), (9.4, 7.2), (9.8, 9.7), (10.2, 11.1), (10.4, 10.7),
     (10.6, 9.3), (10.9, 6.8), (11.2, 4.6), (11.6, 2.5), (12.0, 1.3), (12.2, 0.9), (12.55, 2.6),
     (13.1, 4.3), (13.6, 4.5), (14.2, 4.4), (15.0, 4.4), (15.8, 4.2), (16.7, 5.1), (17.3, 7.1), (17.8, 9.2),
     (18.0, 9.9), (18.2, 9.1), (18.55, 4.8), (18.72, 0.7), (18.9, 1.5), (19.12, 5.0), (19.4, 8.6),
     (19.68, 7.5), (19.85, 6.2), (20.17, 3.8), (20.4, 3.1), (20.7, 3.5), (21.1, 2.9), (21.35, 1.9),
     (21.6, 3.1), (22.2, 4.8), (22.45, 4.8), (23.0, 4.0), (25.0, 3.5)],
    [(0.1, 1.0), (1.0, 1.1), (2.0, 1.85), (2.5, 2.85), (3.0, 4.7), (3.3, 7.0), (3.48, 9.2), (3.58, 10.0),
     (3.7, 9.3), (3.9, 7.6), (4.1, 6.1), (4.5, 4.8), (5.0, 4.3), (5.3, 4.2), (5.8, 5.5), (6.1, 7.1),
     (6.25, 10.0), (6.32, 20.6), (6.38, 10.0), (6.45, 5.5), (6.6, 0.95), (6.75, 0.3), (7.0, 1.2),
     (7.5, 2.3), (8.0, 3.1), (8.5, 4.0), (9.0, 5.1), (9.4, 6.6), (9.85, 9.3), (10.3, 11.0), (10.5, 10.6),
     (10.7, 9.2), (11.0, 6.6), (11.3, 4.4), (11.7, 2.4), (12.0, 1.4), (12.2, 1.0), (12.6, 2.5),
     (13.2, 4.2), (13.7, 4.5), (14.2, 4.5), (15.0, 4.4), (15.8, 4.1), (16.7, 5.0), (17.3, 6.9),
     (17.85, 9.1), (18.05, 9.7), (18.25, 9.0), (18.6, 4.6), (18.75, 0.6), (18.92, 1.5), (19.15, 5.0),
     (19.42, 8.5), (19.7, 7.4), (19.88, 6.1), (20.17, 3.9), (20.4, 3.2), (20.7, 3.6), (21.1, 3.0),
     (21.35, 2.0), (21.65, 3.3), (22.35, 5.1), (22.6, 4.9), (23.0, 4.3), (25.0, 3.6)],
]

# colour scale of the colorbar (value, colour)
cmap_nodes = [(-2.35, "#000004"), (-2.0, "#0c0726"), (-1.5, "#1e0b5c"), (-1.0, "#400c8e"),
              (-0.5, "#8d0aa0"), (0.0, "#c4127c"), (0.5, "#e53f35"), (1.0, "#f57c12"),
              (1.5, "#ffc400"), (2.0, "#fbe98a"), (2.2, "#fdf7e6")]

# ── STYLE ────────────────────────────────────────────────────────────────────
sns.set_theme(style="ticks")
plt.rcParams["font.family"] = ["DejaVu Sans"]
plt.rcParams["mathtext.fontset"] = "dejavusans"
FS = 26
W, H = 2863, 1682

lo, hi = cbar_range
cmap = LinearSegmentedColormap.from_list(
    "rock", [((v - lo) / (hi - lo), c) for v, c in cmap_nodes])
norm = Normalize(vmin=lo, vmax=hi)


def box(x0, y0, x1, y1):
    # pixel box (top-left origin) -> figure fraction rect
    return [x0 / W, 1 - y1 / H, (x1 - x0) / W, (y1 - y0) / H]


panels = [
    dict(curves=stiff_shear, refs=(empty_shear, full_shear), rect=box(175, 97, 1257, 780),
         cax=box(1305, 177, 1338, 767), xlim=(0.5, 22.5), kind="shear", mult_y=112,
         title="Variation of Rock Stiffness", title_xy=(760, 70), cb="E", cb_xy=(1294, 126)),
    dict(curves=stiff_acc, refs=(empty_acc, full_acc), rect=box(1570, 102, 2645, 784),
         cax=box(2679, 177, 2714, 768), xlim=(-0.15, 25.25), kind="acc",
         title="Variation of Rock Stiffness", title_xy=(2127, 70), cb="E", cb_xy=(2678, 126)),
    dict(curves=dens_shear, refs=(empty_shear, full_shear), rect=box(170, 940, 1251, 1617),
         cax=box(1296, 1017, 1329, 1601), xlim=(-0.12, 25.26), kind="shear", mult_y=955,
         title="Variation of Rock Density", title_xy=(747, 907), cb="rho", cb_xy=(1283, 960)),
    dict(curves=dens_acc, refs=(empty_acc, full_acc), rect=box(1570, 940, 2645, 1618),
         cax=box(2679, 1016, 2714, 1601), xlim=(-0.15, 25.25), kind="acc",
         title="Variation of Rock Density", title_xy=(2114, 907), cb="rho", cb_xy=(2666, 958)),
]

fig = plt.figure(figsize=(W / 100, H / 100), dpi=100)

for p in panels:
    ax = fig.add_axes(p["rect"])
    # coloured curves, dark first so lighter ones sit on top
    for val, curve in zip(log_ratio, p["curves"]):
        df = pd.DataFrame(curve, columns=["freq", "value"])
        sns.lineplot(data=df, x="freq", y="value", sort=False, estimator=None,
                     color=cmap(norm(val)), lw=3.8, ax=ax, legend=False)
    # reference curves
    empty, full = p["refs"]
    d_empty = pd.DataFrame(empty, columns=["freq", "value"])
    d_full = pd.DataFrame(full, columns=["freq", "value"])
    sns.lineplot(data=d_empty, x="freq", y="value", sort=False, estimator=None, color="#808080",
                 lw=2.0, linestyle=(0, (9, 5)), ax=ax, legend=False)
    sns.lineplot(data=d_full, x="freq", y="value", sort=False, estimator=None, color="#1f6497",
                 lw=2.0, linestyle=(0, (7, 3, 1.5, 3)), ax=ax, legend=False)
    h_empty, h_full = ax.lines[-2], ax.lines[-1]

    ax.set_xticks([0, 5, 10, 15, 20, 25])
    if p["kind"] == "shear":
        yt = [round(0.2 * i, 1) for i in range(18)]
        ax.set_yticks(yt)
        ax.set_yticklabels([f"{t:g}" for t in yt[:-1]] + [""])
        ax.set_ylim(0, 3.49)
        ax.set_ylabel("Base shear (N)", fontsize=FS, labelpad=12)
        fig.text(105 / W, 1 - p["mult_y"] / H, r"$\times10^7$", fontsize=FS,
                 ha="center", va="center")
    else:
        ax.set_yticks(range(0, 31, 2))
        ax.set_ylim(0, 30)
        ax.set_ylabel(r"Crest acceleration (m/s$^2$)", fontsize=FS, labelpad=6)
    ax.set_xlim(*p["xlim"])
    ax.set_xlabel("Frequency (Hz)", fontsize=FS, labelpad=-2)
    ax.tick_params(direction="in", top=True, right=True, length=7, width=1.2,
                   labelsize=FS, pad=5)
    ax.grid(True, color="#e9e9e9", lw=1.0)
    for s in ax.spines.values():
        s.set_color("black")
        s.set_linewidth(1.4)

    leg = ax.legend([h_empty, h_full],
                    ["Rigid terrain-empty reservoir", "Rigid terrain - full reservoir"],
                    loc="upper right", bbox_to_anchor=(0.975, 0.962), borderaxespad=0,
                    fontsize=FS, handlelength=1.6, handletextpad=0.05, labelspacing=0.45,
                    borderpad=0.4, fancybox=False, framealpha=1,
                    shadow={"ox": -6, "oy": -7, "shade": 0.25})
    leg.get_frame().set_edgecolor("black")
    leg.get_frame().set_linewidth(1.4)

    ax.text(0.695, 0.71, "full reservoir", transform=ax.transAxes, fontsize=FS,
            ha="center", va="center")

    fig.text(p["title_xy"][0] / W, 1 - p["title_xy"][1] / H, p["title"], fontsize=FS,
             ha="center", va="center")

    # colorbar
    cax = fig.add_axes(p["cax"])
    cb = fig.colorbar(ScalarMappable(norm=norm, cmap=cmap), cax=cax, ticks=cbar_ticks)
    cb.ax.set_yticklabels([f"{t:g}" for t in cbar_ticks])
    cb.ax.tick_params(direction="in", left=True, right=True, length=9, width=1.2,
                      labelsize=FS, pad=8)
    cb.outline.set_linewidth(1.2)
    cb.outline.set_edgecolor("black")
    if p["cb"] == "E":
        lab = r"$\mathbf{log}\left(\dfrac{\mathbfit{E}_{\mathbfit{g}}}{\mathbfit{E}_{\mathbfit{c}}}\right)$"
    else:
        lab = r"$\mathbf{log}\left(\dfrac{\rho_{\mathbfit{g}}}{\rho_{\mathbfit{c}}}\right)$"
    fig.text(p["cb_xy"][0] / W, 1 - p["cb_xy"][1] / H, lab, fontsize=FS + 3,
             ha="left", va="center", math_fontfamily="stix")

fig.savefig("out.png", dpi=100)
